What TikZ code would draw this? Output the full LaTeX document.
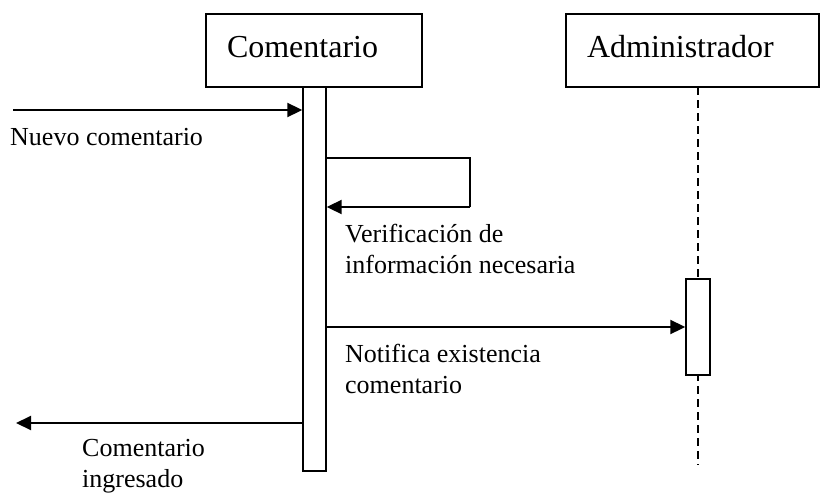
\documentclass[tikz,border=0pt]{standalone}
\usepackage{fontspec}
\setmainfont{Liberation Serif}
\usepackage{tikz}
\usetikzlibrary{arrows.meta, positioning}

\begin{document}
\begin{tikzpicture}[
  x=1pt, y=-1pt,
  >={Triangle[length=15pt, width=14pt]},
  objbox/.style={
    draw, line width=1.4pt, fill=white,
    minimum height=73pt, inner xsep=21pt, inner ysep=0pt,
    align=left, font=\fontsize{32}{36}\selectfont
  },
  actbar/.style={
    draw, line width=1.4pt, fill=white, inner sep=0pt,
    minimum width=23pt
  },
  msg/.style={->, line width=2pt},
  lbl/.style={anchor=west, inner sep=0pt, align=left,
    font=\fontsize{26}{31}\selectfont},
]
\useasboundingbox (0,0) rectangle (820,493);

% Objects
\node[objbox, text width=174pt, minimum width=216pt] (com) at (314,50.5) {Comentario\strut};
\node[objbox, text width=211pt, minimum width=253pt] (adm) at (692.5,50.5) {Administrador\strut};

% Lifelines
\coordinate (admtop) at (698,87);
\coordinate (admend) at (698,465);
\draw[line width=1.4pt, dash pattern=on 8pt off 5pt] (admtop) -- (admend);

% Activation bars
\node[actbar, minimum height=384pt] (bar1) at (314.5,279) {};
\node[actbar, minimum height=96pt, minimum width=24pt] (bar2) at (698,327) {};

% Incoming message
\coordinate (in) at (13,110);
\draw[msg] (in) -- (in -| bar1.west);
\node[lbl] (lin) at (10,137) {Nuevo comentario};

% Self call
\coordinate (loop) at (470,158);
\draw[line width=1.6pt] (bar1.east |- loop) -- (loop) -- ++(0,49) coordinate (loopb);
\draw[msg] (loopb) -- (loopb -| bar1.east);
\node[lbl] (lver) at (345,248.5) {Verificación de\\información necesaria};

% Notify administrator
\coordinate (ntf) at (0,327);
\draw[msg] (ntf -| bar1.east) -- (ntf -| bar2.west);
\node[lbl] (lntf) at (345,369) {Notifica existencia\\comentario};

% Return
\coordinate (out) at (16,423);
\draw[msg] (out -| bar1.west) -- (out);
\node[lbl] (lout) at (82,466) {Comentario\\ingresado};

\end{tikzpicture}
\end{document}
